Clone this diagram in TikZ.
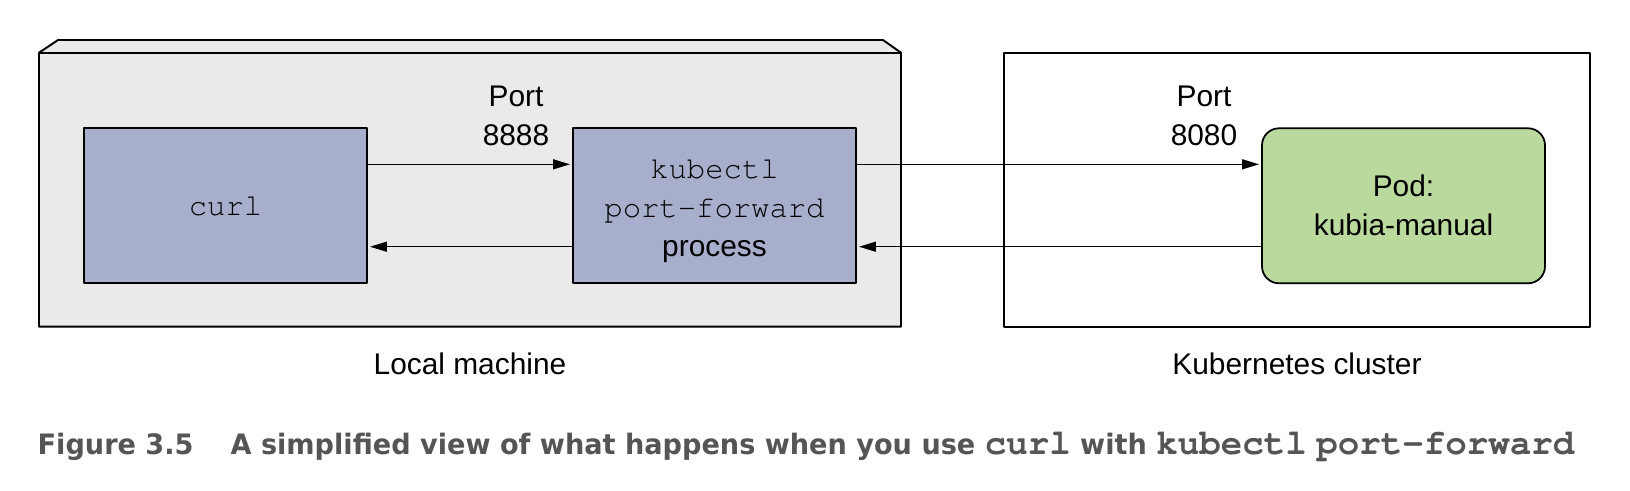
\documentclass[tikz,border=0pt]{standalone}
\usepackage{fontspec}
\setmainfont{Liberation Sans}
\newfontfamily\capfont[FakeStretch=0.965]{DejaVu Sans}
\usepackage{pgf,tikz}
\usetikzlibrary{arrows.meta}
\definecolor{machinegray}{RGB}{234,234,233}
\definecolor{procblue}{RGB}{168,175,204}
\definecolor{podgreen}{RGB}{185,217,157}
\definecolor{capgray}{RGB}{85,85,85}
\newcommand{\courier}{\fontencoding{T1}\fontfamily{pcr}\selectfont}
\newcommand{\capcode}[1]{{\fontsize{10.2}{12}\courier\bfseries #1}}
\tikzset{
  procbox/.style={draw=black,fill=procblue,line width=0.5pt,minimum width=2.83cm,minimum height=1.55cm,inner sep=0pt,align=center},
  podbox/.style={procbox,fill=podgreen,rounded corners=0.17cm},
  flow/.style={->,line width=0.4pt,shorten >=0.6pt}
}

\begin{document}
\begin{tikzpicture}[line cap=round,line join=round,>={Triangle[length=1.7mm,width=1.0mm]},x=1.0cm,y=1.0cm,every node/.style={font=\fontsize{8.5}{11.1}\selectfont}]
\clip(0.,0.) rectangle (16.3,4.9);
% local machine
\draw [fill=machinegray,line width=0.55pt] (0.39,1.633)-- (0.39,4.373)-- (0.58,4.5)-- (8.83,4.5)-- (9.01,4.373)-- (9.01,1.633)-- cycle;
\draw [line width=0.55pt] (0.39,4.373)-- (9.01,4.373);
% kubernetes cluster
\draw [fill=white,line width=0.55pt] (10.04,1.633) rectangle (15.9,4.373);
\node[procbox] (curl) at (2.255,2.842) {\fontsize{8.7}{11.1}\courier curl};
\node[procbox] (kubectl) at (7.145,2.842) {};
\node[align=center] (kubectltext) at ([yshift=-0.055cm]kubectl.center) {{\fontsize{8.7}{11.1}\courier kubectl}\\{\fontsize{8.7}{11.1}\courier port-forward}\\process};
\node[podbox] (pod) at (14.035,2.842) {Pod:\\kubia-manual};
\node[align=center] (port8888) at (5.16,3.74) {Port\\8888};
\node[align=center] (port8080) at (12.04,3.74) {Port\\8080};
\draw[flow] ([yshift=0.415cm]curl.east)-- ([yshift=0.415cm]kubectl.west);
\draw[flow] ([yshift=-0.409cm]kubectl.west)-- ([yshift=-0.409cm]curl.east);
\draw[flow] ([yshift=0.415cm]kubectl.east)-- ([yshift=0.415cm]pod.west);
\draw[flow] ([yshift=-0.409cm]pod.west)-- ([yshift=-0.409cm]kubectl.east);
\node (localmachine) at (4.70,1.26) {Local machine};
\node (k8scluster) at (12.97,1.26) {Kubernetes cluster};
% caption
\node[anchor=base west,inner sep=0pt,text=capgray,font=\capfont\bfseries\fontsize{8.0}{10}\selectfont] (caption) at (0.37,0.36)
  {Figure 3.5\hspace{0.37cm}A simplified view of what happens when you use \capcode{curl} with \capcode{kubectl} \capcode{port-forward}};
\end{tikzpicture}
\end{document}
